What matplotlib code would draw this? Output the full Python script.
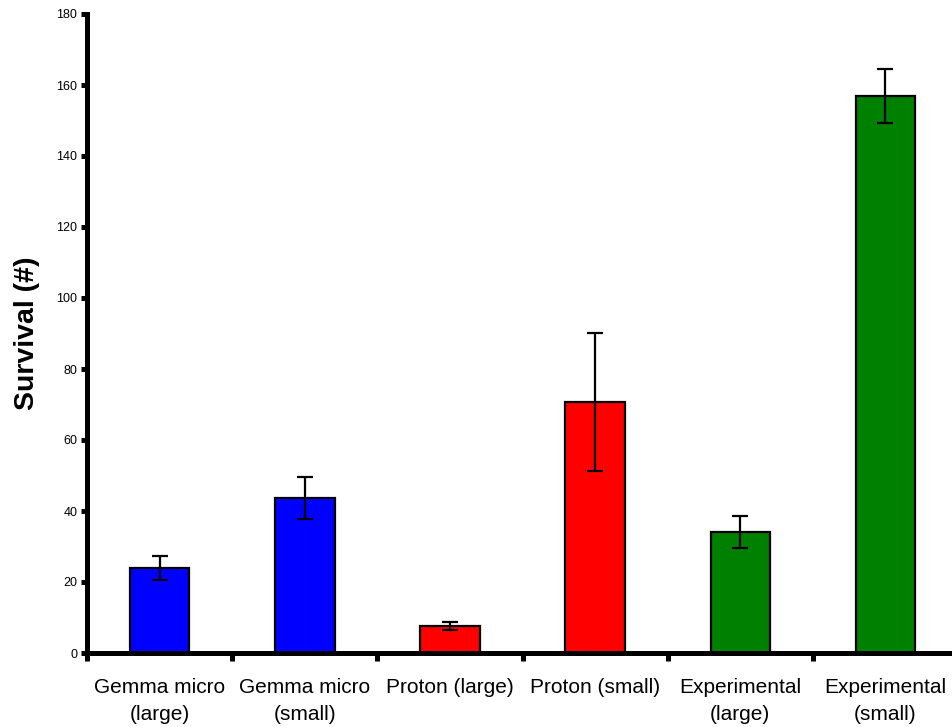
import matplotlib
matplotlib.use("Agg")
import matplotlib.pyplot as plt
import numpy as np

plt.rcParams['font.family'] = ['Liberation Sans', 'DejaVu Sans']

categories = ["Gemma micro\n(large)", "Gemma micro\n(small)", "Proton (large)",
              "Proton (small)", "Experimental\n(large)", "Experimental\n(small)"]
survival = [24.0, 43.7, 7.6, 70.7, 34.1, 156.8]
errors = [3.4, 6.0, 1.1, 19.4, 4.5, 7.6]
colors = ["#0000ff", "#0000ff", "#ff0000", "#ff0000", "#008000", "#008000"]
y_ticks = list(range(0, 181, 20))

fig = plt.figure(figsize=(9.53, 7.27), dpi=100)
ax = fig.add_axes([87 / 953, 1 - 653 / 727, 1 - 87 / 953, (653 - 14) / 727])

x = np.arange(len(categories))
ax.bar(x, survival, width=0.41, color=colors, edgecolor="black", linewidth=1.6, zorder=2)
ax.errorbar(x, survival, yerr=errors, fmt="none", ecolor="black",
            elinewidth=1.6, capsize=6, capthick=1.6, zorder=3)

# the category axis runs slightly past the right edge of the figure
ax.set_xlim(-0.5, 5.465)
ax.set_ylim(0, 180)
ax.set_yticks(y_ticks)
ax.tick_params(axis="y", length=4, width=3.6, labelsize=9, pad=3)

ax.set_xticks(np.arange(-0.5, 5.0, 1.0))
ax.set_xticklabels([])
ax.tick_params(axis="x", which="major", length=6, width=3.6, direction="out")
ax.set_xticks(x, minor=True)
ax.set_xticklabels(categories, minor=True, fontsize=15, linespacing=1.5)
ax.tick_params(axis="x", which="minor", length=0, pad=18)

for side in ("top", "right"):
    ax.spines[side].set_visible(False)
for side in ("left", "bottom"):
    ax.spines[side].set_linewidth(3.6)

ax.set_ylabel("Survival (#)", fontsize=20.5, fontweight="bold", labelpad=12)

fig.savefig("out.png", dpi=100)
